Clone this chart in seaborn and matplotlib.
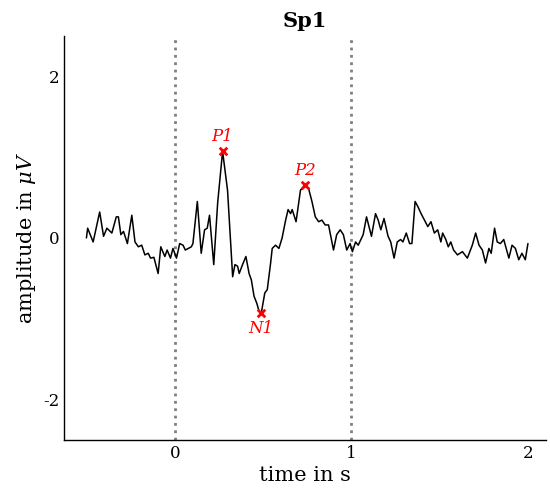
import numpy as np
import pandas as pd
import matplotlib
matplotlib.use("Agg")
import matplotlib.pyplot as plt
import seaborn as sns

# waveform (time in s, amplitude in uV)
time = [
    -0.500, -0.493, -0.462, -0.425, -0.403, -0.384, -0.356, -0.331, -0.319, -0.305,
    -0.290, -0.268, -0.243, -0.225, -0.206, -0.187, -0.169, -0.150, -0.137, -0.118,
    -0.094, -0.079, -0.056, -0.043, -0.024, -0.010, 0.010, 0.028, 0.047, 0.060,
    0.094, 0.103, 0.128, 0.150, 0.169, 0.184, 0.197, 0.221, 0.243, 0.271,
    0.299, 0.328, 0.341, 0.356, 0.365, 0.384, 0.403, 0.421, 0.434, 0.449,
    0.465, 0.478, 0.490, 0.510, 0.524, 0.543, 0.552, 0.571, 0.590, 0.608,
    0.628, 0.642, 0.656, 0.665, 0.687, 0.712, 0.736, 0.758, 0.777, 0.796,
    0.815, 0.833, 0.852, 0.871, 0.899, 0.917, 0.937, 0.955, 0.974, 0.993,
    1.006, 1.024, 1.039, 1.067, 1.086, 1.114, 1.137, 1.152, 1.167, 1.185,
    1.208, 1.223, 1.242, 1.260, 1.279, 1.292, 1.311, 1.330, 1.343, 1.361,
    1.376, 1.395, 1.414, 1.433, 1.451, 1.470, 1.489, 1.507, 1.517, 1.535,
    1.549, 1.563, 1.579, 1.601, 1.629, 1.657, 1.685, 1.704, 1.723, 1.742,
    1.760, 1.779, 1.792, 1.811, 1.826, 1.844, 1.863, 1.892, 1.910, 1.929,
    1.948, 1.966, 1.985, 2.000,
]
amplitude = [
    0.00, 0.12, -0.05, 0.32, 0.02, 0.12, 0.06, 0.26, 0.26, 0.04,
    0.08, -0.07, 0.28, -0.05, -0.11, -0.09, -0.21, -0.19, -0.25, -0.24,
    -0.44, -0.11, -0.23, -0.15, -0.25, -0.13, -0.25, -0.07, -0.09, -0.15,
    -0.11, -0.07, 0.45, -0.19, 0.10, 0.12, 0.28, -0.33, 0.43, 1.07,
    0.59, -0.48, -0.33, -0.35, -0.44, -0.33, -0.23, -0.44, -0.52, -0.72,
    -0.81, -0.91, -0.93, -0.68, -0.64, -0.31, -0.13, -0.09, -0.13, 0.00,
    0.22, 0.35, 0.30, 0.35, 0.20, 0.59, 0.65, 0.61, 0.45, 0.26,
    0.20, 0.22, 0.16, 0.16, -0.15, 0.04, 0.10, 0.04, -0.15, -0.07,
    -0.17, -0.05, -0.09, 0.04, 0.26, 0.02, 0.30, 0.22, 0.10, 0.24,
    0.02, -0.05, -0.25, -0.05, -0.02, -0.05, 0.06, -0.07, -0.07, 0.45,
    0.39, 0.30, 0.22, 0.14, 0.20, 0.06, 0.10, -0.05, 0.06, -0.02,
    -0.11, -0.05, -0.15, -0.21, -0.17, -0.25, -0.09, 0.06, -0.09, -0.15,
    -0.31, -0.13, -0.19, 0.12, -0.05, -0.07, -0.02, -0.25, -0.09, -0.13,
    -0.27, -0.19, -0.27, -0.07,
]

# labelled peaks
peak_names = ["P1", "N1", "P2"]
peak_times = [0.271, 0.490, 0.736]
peak_amps = [1.07, -0.93, 0.65]

stim_lines = [0, 1]

sns.set_style("white")
plt.rcParams["font.family"] = ["DejaVu Serif"]
plt.rcParams["mathtext.fontset"] = "dejavuserif"
plt.rcParams["axes.unicode_minus"] = False
plt.rcParams["text.color"] = "black"
plt.rcParams["axes.labelcolor"] = "black"
plt.rcParams["xtick.color"] = "black"
plt.rcParams["ytick.color"] = "black"

df = pd.DataFrame({"time": time, "amp": amplitude})

fig = plt.figure(figsize=(5.5, 4.88), dpi=100)
ax = fig.add_axes([0.117, 0.098, 0.875, 0.829])

for x in stim_lines:
    ax.axvline(x, color="grey", linestyle=":", linewidth=2)

sns.lineplot(data=df, x="time", y="amp", color="black", linewidth=1.1, ax=ax)

ax.scatter(peak_times, peak_amps, marker="x", color="red", s=30, linewidths=2, zorder=5)
for name, t, a in zip(peak_names, peak_times, peak_amps):
    off = 0.08 if a > 0 else -0.08
    va = "bottom" if a > 0 else "top"
    ax.text(t, a + off, name, color="red", fontstyle="italic", fontsize=12,
            ha="center", va=va)

ax.set_xlim(-0.625, 2.1)
ax.set_ylim(-2.5, 2.5)
ax.set_xticks([0, 1, 2])
ax.set_yticks([-2, 0, 2])
ax.tick_params(labelsize=12, length=0)
ax.set_xlabel("time in s", fontsize=15, labelpad=3)
ax.set_ylabel("amplitude in $\\mu V$", fontsize=15)
ax.set_title("Sp1", fontsize=15, fontweight="bold")
sns.despine(ax=ax)
for s in ["left", "bottom"]:
    ax.spines[s].set_color("black")
    ax.spines[s].set_linewidth(1)

fig.savefig("out.png", dpi=100)
